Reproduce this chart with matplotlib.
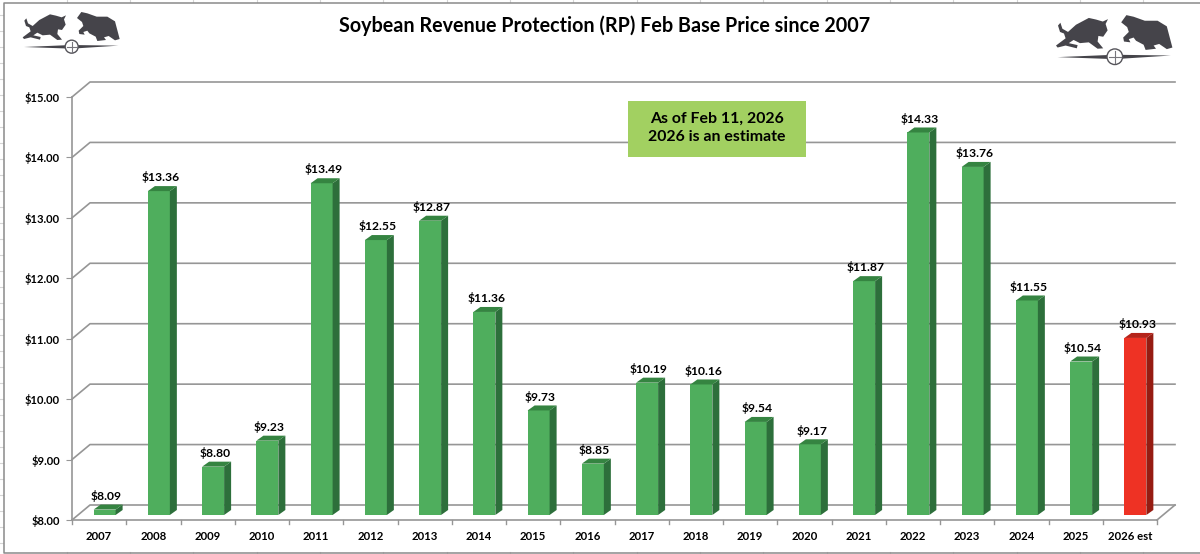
import matplotlib
matplotlib.use('Agg')
import matplotlib.pyplot as plt
from matplotlib.patches import Polygon, Rectangle, Circle

plt.rcParams['font.family'] = ['Lato', 'DejaVu Sans']

# Chart data
years = ['2007', '2008', '2009', '2010', '2011', '2012', '2013', '2014', '2015', '2016',
         '2017', '2018', '2019', '2020', '2021', '2022', '2023', '2024', '2025', '2026 est']
prices = [8.09, 13.36, 8.80, 9.23, 13.49, 12.55, 12.87, 11.36, 9.73, 8.85,
          10.19, 10.16, 9.54, 9.17, 11.87, 14.33, 13.76, 11.55, 10.54, 10.93]
y_ticks = [8, 9, 10, 11, 12, 13, 14, 15]
title = 'Soybean Revenue Protection (RP) Feb Base Price since 2007'
note = 'As of Feb 11, 2026\n2026 is an estimate'

W, H = 1200, 554
AX_L, AX_R, AX_T, AX_B = 72, 1157, 97, 520
GRID = '#969696'

# data units per pixel, used for the fake 3D depth
px_x = len(years) / (AX_R - AX_L)
px_y = (y_ticks[-1] - y_ticks[0]) / (AX_B - AX_T)

fig = plt.figure(figsize=(W / 100, H / 100), dpi=100, facecolor='white')

# Background layer in pixel coordinates: sheet cells, frame, logos
bg = fig.add_axes([0, 0, 1, 1])
bg.set_xlim(0, W)
bg.set_ylim(H, 0)
bg.axis('off')

for x in [67, 130, 193, 257, 320, 383, 447, 510, 573, 637, 700, 763, 827, 890, 953, 1017, 1080, 1143]:
    bg.plot([x, x], [0, 2], color='#d5d5d5', lw=0.8)
    bg.plot([x, x], [552, H], color='#d5d5d5', lw=0.8)
for y in range(15, 554, 16):
    bg.plot([0, 3], [y, y], color='#d5d5d5', lw=0.8)
bg.plot([W, 3.5, 3.5, W], [2.5, 2.5, 552.5, 552.5], color='#8a8a8a', lw=1.1)

bull = [(68, 112), (92, 94), (88, 82), (78, 78), (73, 62), (79, 55), (84, 70), (98, 78), (118, 60),
        (150, 43), (168, 47), (185, 52), (198, 46), (192, 58), (197, 74), (186, 90), (174, 88),
        (172, 102), (186, 119), (172, 120), (150, 104), (128, 106), (112, 98), (100, 106), (122, 111),
        (120, 119), (92, 112), (72, 117)]
bear = [(231, 54), (244, 36), (262, 40), (290, 50), (322, 50), (345, 64), (359, 117), (345, 121),
        (326, 108), (312, 112), (318, 120), (292, 123), (287, 110), (268, 100), (262, 92), (250, 96), (254, 104),
        (238, 102), (236, 92), (250, 78), (246, 66)]
needle = [(72, 141), (215, 135), (355, 137), (215, 146)]


def draw_logo(map_pt, scale):
    for shape in (bull, bear, needle):
        bg.add_patch(Polygon([map_pt(p) for p in shape], closed=True, fc='#45444a', ec='none'))
    cx, cy = map_pt((215, 140))
    bg.add_patch(Circle((cx, cy), 6.5 * scale, fc='white', ec='#55545a', lw=1))
    bg.plot([cx - 5 * scale, cx + 5 * scale], [cy, cy], color='#77767c', lw=0.8)
    bg.plot([cx, cx], [cy - 5 * scale, cy + 5 * scale], color='#77767c', lw=0.8)


draw_logo(lambda p: (p[0] / 3, p[1] / 3), 1)
draw_logo(lambda p: (980 + (228 + (p[0] - 68) * 1.2) / 3, (55 + (p[1] - 44) * 1.2) / 3), 1.2)

bg.text(605, 26, title, ha='center', va='center', fontsize=14.2, fontweight='bold', color='black')

# Main chart axes: front edge of the 3D box
ax = fig.add_axes([AX_L / W, 1 - AX_B / H, (AX_R - AX_L) / W, (AX_B - AX_T) / H])
ax.patch.set_alpha(0)
ax.set_xlim(0, len(years))
ax.set_ylim(y_ticks[0], y_ticks[-1])
for side in ['top', 'right']:
    ax.spines[side].set_visible(False)
for side in ['left', 'bottom']:
    ax.spines[side].set_color(GRID)
    ax.spines[side].set_linewidth(1.2)

ax.set_yticks(y_ticks)
ax.set_yticklabels([f'${v:.2f}' for v in y_ticks], fontsize=8, fontweight='bold')
ax.set_xticks([i + 0.5 for i in range(len(years))])
ax.set_xticklabels(years, fontsize=8.2, fontweight='bold')
ax.tick_params(axis='x', length=0, pad=8)
ax.tick_params(axis='y', length=4, color=GRID, pad=4.5)
for i in range(len(years) + 1):
    ax.plot([i, i], [y_ticks[0], y_ticks[0] - 4 * px_y], color=GRID, lw=1, clip_on=False)

# Back wall gridlines with their diagonal joins
back_x, back_y = 18 * px_x, 15 * px_y
for v in y_ticks:
    ax.plot([0, back_x, len(years) + back_x], [v, v + back_y, v + back_y],
            color=GRID, lw=1.2, clip_on=False, zorder=1)
ax.plot([len(years), len(years) + back_x], [y_ticks[0], y_ticks[0] + back_y],
        color=GRID, lw=1.2, clip_on=False, zorder=1)

# Note box sits over the gridlines
ax.add_patch(Rectangle((628, 101), 178, 56, fc='#a2d061', ec='none', transform=bg.transData,
                       clip_on=False, zorder=2))
ax.text(717, 128, note, ha='center', va='center', fontsize=11.4, fontweight='bold', color='black',
        linespacing=1.35, transform=bg.transData, zorder=2.5)

# Bars with side and top faces
depth_x, depth_y = 7 * px_x, 5 * px_y
shift = 5.5 * px_x
lift = 5 * px_y
bar_w = 0.405
for i, (year, price) in enumerate(zip(years, prices)):
    is_est = 'est' in year
    front = '#ee3224' if is_est else '#4fae5d'
    side = '#961c12' if is_est else '#2d6f3b'
    top = '#b5241a' if is_est else '#358441'
    xc = i + 0.5 + shift
    left, right = xc - bar_w / 2, xc + bar_w / 2
    base, tip = y_ticks[0] + lift, price + lift
    ax.bar(xc, price - y_ticks[0], width=bar_w, bottom=base, color=front, zorder=3)
    ax.add_patch(Polygon([(right, base), (right + depth_x, base + depth_y),
                          (right + depth_x, tip + depth_y), (right, tip)],
                         closed=True, fc=side, ec='none', zorder=3, clip_on=False))
    ax.add_patch(Polygon([(left, tip), (left + depth_x, tip + depth_y),
                          (right + depth_x, tip + depth_y), (right, tip)],
                         closed=True, fc=top, ec='none', zorder=3, clip_on=False))
    ax.annotate(f'${price:.2f}', (xc + depth_x / 4, tip + depth_y), xytext=(0, 2),
                textcoords='offset points', ha='center', va='bottom',
                fontsize=8.7, fontweight='bold', color='black', zorder=5, annotation_clip=False)

fig.savefig('out.png', dpi=100)
